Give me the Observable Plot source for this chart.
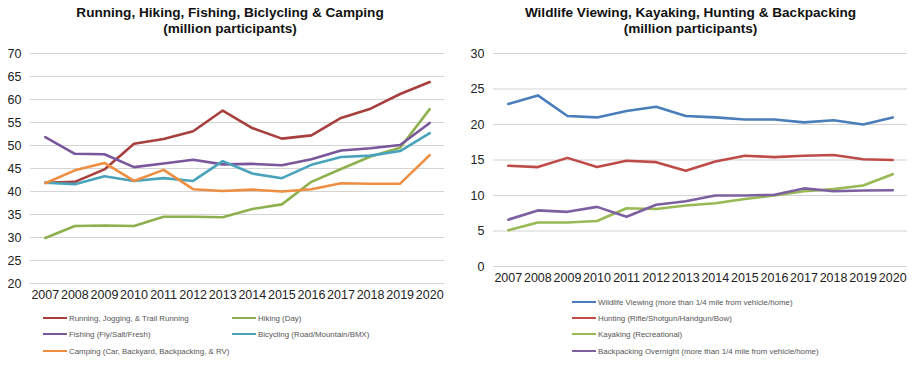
<!DOCTYPE html>
<html>
<head>
<meta charset="utf-8">
<script src="https://cdn.jsdelivr.net/npm/d3@7"></script>
<script src="https://cdn.jsdelivr.net/npm/@observablehq/plot@0.6"></script>
<style>
  html, body { margin: 0; padding: 0; background: #fff; }
  #root { position: relative; width: 921px; height: 370px; font-family: "Liberation Sans", Arial, sans-serif; overflow: hidden; }
  .panel { position: absolute; top: 0; }
  .title { position: absolute; top: 5px; width: 100%; text-align: center; font-weight: bold; font-size: 13.6px; line-height: 16px; color: #111; }
  .legend { position: absolute; font-size: 7.9px; color: #555; }
  .legend .item { position: absolute; white-space: nowrap; line-height: 10px; }
  .legend .sw { display: inline-block; width: 24px; height: 2.5px; vertical-align: middle; margin-right: 2px; position: relative; top: -1px; }
  svg { position: absolute; left: 0; top: 0; }
</style>
</head>
<body>
<div id="root">
  <div class="panel" id="left" style="left:0;width:460px;height:370px;">
    <div class="title">Running, Hiking, Fishing, Biclycling &amp; Camping<br>(million participants)</div>
  </div>
  <div class="panel" id="right" style="left:460px;width:461px;height:370px;">
    <div class="title">Wildlife Viewing, Kayaking, Hunting &amp; Backpacking<br>(million participants)</div>
  </div>
</div>
<script>
const years = [2007,2008,2009,2010,2011,2012,2013,2014,2015,2016,2017,2018,2019,2020];

// Left chart series
const leftNames = [
  "Running, Jogging, & Trail Running",
  "Hiking (Day)",
  "Fishing (Fly/Salt/Fresh)",
  "Bicycling (Road/Mountain/BMX)",
  "Camping (Car, Backyard, Backpacking, & RV)"
];
const running    = [41.9,42.1,44.8,50.4,51.4,53.1,57.6,53.8,51.5,52.2,56.0,58.0,61.2,63.8];
const hiking     = [29.9,32.5,32.6,32.5,34.5,34.5,34.4,36.2,37.2,42.1,44.9,47.6,49.5,57.9];
const fishing    = [51.8,48.2,48.1,45.3,46.1,46.9,45.9,46.0,45.7,47.0,48.9,49.4,50.1,54.9];
const bicycling  = [41.9,41.6,43.3,42.3,42.9,42.3,46.6,43.9,42.9,45.8,47.5,47.8,48.8,52.7];
const camping    = [41.8,44.6,46.2,42.3,44.7,40.5,40.1,40.4,40.0,40.5,41.8,41.7,41.7,47.9];
const leftColors = ["#A63F3D","#8FB04E","#7A569C","#4AA3BC","#EE8E42"];
const leftTicksY = [20,25,30,35,40,45,50,55,60,65,70];

// Right chart series
const rightNames = [
  "Wildlife Viewing (more than 1/4 mile from vehicle/home)",
  "Hunting (Rifle/Shotgun/Handgun/Bow)",
  "Kayaking (Recreational)",
  "Backpacking Overnight (more than 1/4 mile from vehicle/home)"
];
const wildlife    = [22.9,24.1,21.2,21.0,21.9,22.5,21.2,21.0,20.7,20.7,20.3,20.6,20.0,21.0];
const hunting     = [14.2,14.0,15.3,14.0,14.9,14.7,13.5,14.8,15.6,15.4,15.6,15.7,15.1,15.0];
const kayaking    = [5.1,6.2,6.2,6.4,8.2,8.1,8.6,8.9,9.5,10.0,10.6,10.9,11.4,13.0];
const backpacking = [6.6,7.9,7.7,8.4,7.0,8.7,9.2,10.0,10.0,10.1,11.0,10.6,10.7,10.75];
const rightColors = ["#4A7EBB","#BE4B48","#98B954","#7D60A0"];
const rightTicksY = [0,5,10,15,20,25,30];

function toRows(names, seriesList) {
  const rows = [];
  names.forEach((n, i) => years.forEach((y, j) => rows.push({series: n, year: y, value: seriesList[i][j]})));
  return rows;
}

function makeChart(opts) {
  const rows = toRows(opts.names, opts.series);
  return Plot.plot({
    width: opts.width,
    height: opts.height,
    marginLeft: opts.marginLeft,
    marginRight: opts.marginRight,
    marginTop: opts.marginTop,
    marginBottom: opts.marginBottom,
    style: {fontFamily: '"Liberation Sans", Arial, sans-serif', fontSize: "12.5px", color: "#222", background: "transparent"},
    x: {domain: [2006.5, 2020.5], ticks: years, tickFormat: d => String(d), tickSize: 0, tickPadding: 7, label: null},
    y: {domain: opts.yDomain, ticks: opts.yTicks, tickSize: 0, tickPadding: opts.yPad, label: null},
    color: {domain: opts.names, range: opts.colors},
    marks: [
      Plot.ruleY(opts.yTicks, {stroke: "#d4d4d4", strokeWidth: 1.2}),
      Plot.axisX({ticks: years, tickFormat: d => String(d), tickSize: 0, tickPadding: 7, fontSize: 12.5, label: null}),
      Plot.axisY({ticks: opts.yTicks, tickSize: 0, tickPadding: opts.yPad, fontSize: 12.5, label: null}),
      Plot.line(rows, {x: "year", y: "value", z: "series", stroke: "series", strokeWidth: 2.6, strokeLinejoin: "round"})
    ]
  });
}

const leftSvg = makeChart({
  width: 460, height: 310, marginLeft: 30, marginRight: 16, marginTop: 53, marginBottom: 27,
  yDomain: [20, 70], yTicks: leftTicksY, yPad: 9,
  names: leftNames, series: [running, hiking, fishing, bicycling, camping], colors: leftColors
});
document.getElementById("left").appendChild(leftSvg);

const rightSvg = makeChart({
  width: 461, height: 290, marginLeft: 33, marginRight: 14, marginTop: 53, marginBottom: 24,
  yDomain: [0, 30], yTicks: rightTicksY, yPad: 9,
  names: rightNames, series: [wildlife, hunting, kayaking, backpacking], colors: rightColors
});
document.getElementById("right").appendChild(rightSvg);

function legend(parent, names, colors, positions) {
  const lg = document.createElement("div");
  lg.className = "legend";
  lg.style.left = "0px"; lg.style.top = "0px";
  names.forEach((n, i) => {
    const it = document.createElement("div");
    it.className = "item";
    it.style.left = positions[i][0] + "px";
    it.style.top = (positions[i][1] - 5) + "px";
    const sw = document.createElement("span");
    sw.className = "sw";
    sw.style.background = colors[i];
    it.appendChild(sw);
    it.appendChild(document.createTextNode(n));
    lg.appendChild(it);
  });
  parent.appendChild(lg);
}
legend(document.getElementById("left"), leftNames, leftColors,
  [[43,319],[232,319],[43,335],[232,335],[43,352]]);
legend(document.getElementById("right"), rightNames, rightColors,
  [[112,303],[112,319],[112,335],[112,352]]);
</script>
</body>
</html>
